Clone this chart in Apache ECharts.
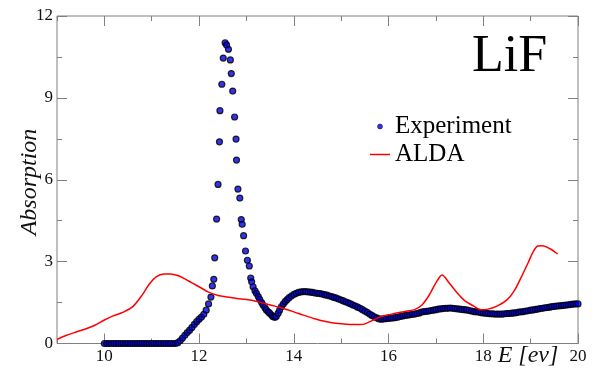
<!DOCTYPE html>
<html>
<head>
<meta charset="utf-8">
<script src="https://cdn.jsdelivr.net/npm/echarts@6/dist/echarts.min.js"></script>
<style>
  html, body { margin: 0; background: #fff; }
  #chart { width: 604px; height: 382px; }
</style>
</head>
<body>
<div id="chart"></div>
<script>
// E [ev], absorption pairs
const expFlat = [
  [10.00, 0], [10.05, 0], [10.10, 0], [10.15, 0], [10.20, 0], [10.25, 0], [10.30, 0], [10.35, 0],
  [10.40, 0], [10.45, 0], [10.50, 0], [10.55, 0], [10.60, 0], [10.65, 0], [10.70, 0], [10.75, 0],
  [10.80, 0], [10.85, 0], [10.90, 0], [10.95, 0], [11.00, 0], [11.05, 0], [11.10, 0], [11.15, 0],
  [11.20, 0], [11.25, 0], [11.30, 0], [11.35, 0], [11.40, 0], [11.45, 0], [11.50, 0]
]
const expRise = [
  [11.55, 0.03], [11.60, 0.10], [11.65, 0.20], [11.70, 0.30], [11.75, 0.40], [11.80, 0.49],
  [11.85, 0.59], [11.90, 0.70], [11.95, 0.80], [12.00, 0.89], [12.05, 0.97], [12.10, 1.07],
  [12.15, 1.22], [12.20, 1.45], [12.25, 1.70]
]
const expPeak = [
  [12.28, 2.11], [12.31, 2.35], [12.33, 3.14], [12.37, 4.56], [12.40, 5.83], [12.43, 7.39],
  [12.44, 8.53], [12.48, 9.50], [12.51, 10.46], [12.55, 11.02], [12.58, 10.94], [12.62, 10.78],
  [12.66, 10.39], [12.68, 9.89], [12.71, 9.25], [12.75, 8.30], [12.78, 7.49], [12.79, 6.72],
  [12.82, 5.66], [12.86, 5.33], [12.89, 4.54], [12.91, 4.37], [12.94, 3.95], [12.98, 3.39],
  [13.02, 3.05], [13.06, 2.84], [13.09, 2.40]
]
const expTail = [
  [13.11, 2.26], [13.14, 2.08], [13.18, 1.93], [13.21, 1.84], [13.25, 1.72], [13.28, 1.62],
  [13.32, 1.50], [13.35, 1.41], [13.39, 1.31], [13.42, 1.23], [13.46, 1.16], [13.49, 1.11],
  [13.53, 1.04], [13.56, 0.98], [13.60, 0.96], [13.63, 0.99], [13.67, 1.11], [13.70, 1.22],
  [13.74, 1.35], [13.78, 1.45], [13.82, 1.54], [13.86, 1.61], [13.90, 1.68], [13.95, 1.74],
  [14.00, 1.80], [14.05, 1.84], [14.10, 1.87], [14.15, 1.89], [14.20, 1.90], [14.25, 1.90],
  [14.30, 1.89], [14.35, 1.88], [14.40, 1.87], [14.45, 1.85], [14.50, 1.84], [14.55, 1.83],
  [14.60, 1.81], [14.65, 1.79], [14.70, 1.77], [14.75, 1.74], [14.80, 1.72], [14.85, 1.69],
  [14.90, 1.66], [14.95, 1.63], [15.00, 1.59], [15.05, 1.56], [15.10, 1.52], [15.15, 1.49],
  [15.20, 1.45], [15.25, 1.41], [15.30, 1.37], [15.35, 1.33], [15.40, 1.29], [15.45, 1.24],
  [15.50, 1.19], [15.55, 1.14], [15.60, 1.08], [15.65, 1.03], [15.70, 0.98], [15.75, 0.94],
  [15.80, 0.90], [15.85, 0.89], [15.90, 0.90], [15.95, 0.91], [16.00, 0.92], [16.05, 0.93],
  [16.10, 0.94], [16.15, 0.95], [16.20, 0.97], [16.25, 0.99], [16.30, 1.01], [16.35, 1.03],
  [16.40, 1.04], [16.45, 1.05], [16.50, 1.07], [16.55, 1.08], [16.60, 1.10], [16.65, 1.12],
  [16.70, 1.15], [16.75, 1.17], [16.80, 1.18], [16.85, 1.19], [16.90, 1.21], [16.95, 1.22],
  [17.00, 1.24], [17.05, 1.26], [17.10, 1.27], [17.15, 1.28], [17.20, 1.29], [17.25, 1.29],
  [17.30, 1.30], [17.35, 1.29], [17.40, 1.28], [17.45, 1.27], [17.50, 1.26], [17.55, 1.25],
  [17.60, 1.24], [17.65, 1.23], [17.70, 1.21], [17.75, 1.19], [17.80, 1.17], [17.85, 1.16],
  [17.90, 1.15], [17.95, 1.13], [18.00, 1.12], [18.05, 1.11], [18.10, 1.10], [18.15, 1.09],
  [18.20, 1.09], [18.25, 1.08], [18.30, 1.08], [18.35, 1.08], [18.40, 1.08], [18.45, 1.09],
  [18.50, 1.10], [18.55, 1.10], [18.60, 1.11], [18.65, 1.12], [18.70, 1.13], [18.75, 1.15],
  [18.80, 1.16], [18.85, 1.17], [18.90, 1.19], [18.95, 1.20], [19.00, 1.22], [19.05, 1.23],
  [19.10, 1.25], [19.15, 1.26], [19.20, 1.28], [19.25, 1.29], [19.30, 1.31], [19.35, 1.32],
  [19.40, 1.33], [19.45, 1.35], [19.50, 1.36], [19.55, 1.37], [19.60, 1.38], [19.65, 1.39],
  [19.70, 1.40], [19.75, 1.41], [19.80, 1.42], [19.85, 1.43], [19.90, 1.44], [19.95, 1.45],
  [20.00, 1.45]
]
const alda = [
  [9.00, 0.15], [9.20, 0.30], [9.40, 0.42], [9.60, 0.53], [9.80, 0.67], [10.00, 0.86],
  [10.20, 1.02], [10.40, 1.15], [10.60, 1.35], [10.80, 1.78], [10.95, 2.18], [11.10, 2.45],
  [11.25, 2.55], [11.40, 2.55], [11.55, 2.49], [11.70, 2.37], [11.85, 2.22], [12.00, 2.08],
  [12.20, 1.88], [12.40, 1.76], [12.60, 1.70], [12.80, 1.65], [13.00, 1.61], [13.20, 1.55],
  [13.40, 1.46], [13.60, 1.37], [13.80, 1.27], [14.00, 1.16], [14.20, 1.04], [14.40, 0.93],
  [14.60, 0.83], [14.80, 0.76], [15.00, 0.72], [15.20, 0.70], [15.40, 0.70], [15.50, 0.72],
  [15.70, 0.88], [15.85, 0.99], [16.00, 1.05], [16.20, 1.13], [16.40, 1.19], [16.55, 1.24],
  [16.70, 1.40], [16.85, 1.75], [17.00, 2.22], [17.13, 2.51], [17.28, 2.22], [17.45, 1.85],
  [17.60, 1.58], [17.80, 1.37], [17.95, 1.24], [18.10, 1.26], [18.30, 1.38], [18.50, 1.60],
  [18.65, 1.92], [18.80, 2.42], [18.95, 2.97], [19.05, 3.35], [19.15, 3.57], [19.25, 3.58],
  [19.40, 3.48], [19.57, 3.28]
]
const xMajor = [10, 12, 14, 16, 18, 20]

const serif = "'Liberation Serif', 'Times New Roman', serif"
const frame = '#808080'
const dotBlue = '#0000e6'

const chart = echarts.init(document.getElementById('chart'), null, { renderer: 'canvas' })

function xAxisOf(position, major) {
  return {
    type: 'value',
    position,
    min: 9,
    max: 20,
    interval: 1,
    axisLine: { show: false },
    splitLine: { show: false },
    axisTick: major
      ? { show: true, inside: true, length: 10, customValues: xMajor, lineStyle: { color: frame } }
      : { show: true, inside: true, length: 5, lineStyle: { color: frame } },
    axisLabel: major && position === 'bottom'
      ? { show: true, customValues: xMajor, margin: 5, color: '#111', fontFamily: serif, fontSize: 17 }
      : { show: false }
  }
}

function yAxisOf(position) {
  return {
    type: 'value',
    position,
    min: 0,
    max: 12,
    interval: 3,
    axisLine: { show: false },
    splitLine: { show: false },
    axisTick: { show: true, inside: true, length: 10, lineStyle: { color: frame } },
    minorTick: { show: true, splitNumber: 2, length: 5, lineStyle: { color: frame } },
    axisLabel: position === 'left'
      ? { show: true, margin: 4, color: '#111', fontFamily: serif, fontSize: 17 }
      : { show: false }
  }
}

const option = {
  backgroundColor: '#fff',
  animation: false,
  grid: {
    left: 57, right: 26, top: 16, bottom: 38.5,
    show: true, borderColor: frame, borderWidth: 1, backgroundColor: 'transparent'
  },
  xAxis: [xAxisOf('bottom', true), xAxisOf('bottom', false), xAxisOf('top', true), xAxisOf('top', false)],
  yAxis: [yAxisOf('left'), yAxisOf('right')],
  legend: {
    orient: 'vertical',
    left: 365,
    top: 109,
    itemWidth: 20,
    itemHeight: 5,
    itemGap: 3,
    textStyle: { fontFamily: serif, fontSize: 25, color: '#000' },
    data: [
      {
        name: 'Experiment',
        icon: 'circle',
        itemStyle: { color: dotBlue, borderColor: '#000', borderWidth: 0.6 }
      },
      {
        name: 'ALDA',
        icon: 'path://M0,0H20V1.5H0Z',
        itemStyle: { color: '#ff0000', borderWidth: 0 }
      }
    ]
  },
  graphic: [
    {
      type: 'text', left: 472, top: 31,
      style: { text: 'LiF', font: "52px 'Liberation Serif', serif", fill: '#000' }
    },
    {
      type: 'text', x: 30, y: 182, rotation: Math.PI / 2,
      style: {
        text: 'Absorption', font: "italic 24px 'Liberation Serif', serif",
        fill: '#111', align: 'center', verticalAlign: 'middle'
      }
    },
    {
      type: 'text', x: 528, y: 356,
      style: {
        text: 'E [ev]', font: "italic 24px 'Liberation Serif', serif",
        fill: '#111', align: 'center', verticalAlign: 'middle'
      }
    }
  ],
  series: [
    {
      name: 'Experiment',
      type: 'scatter',
      xAxisIndex: 0,
      yAxisIndex: 0,
      symbol: 'circle',
      symbolSize: 6,
      itemStyle: { color: dotBlue, borderColor: '#000', borderWidth: 1.2 },
      data: [...expFlat, ...expRise, ...expPeak, ...expTail],
      z: 2
    },
    {
      name: 'ALDA',
      type: 'line',
      xAxisIndex: 0,
      yAxisIndex: 0,
      symbol: 'none',
      smooth: 0.3,
      lineStyle: { color: '#ff0000', width: 1.5 },
      itemStyle: { color: '#ff0000' },
      data: alda,
      z: 3
    }
  ]
}

chart.setOption(option)
</script>
</body>
</html>
